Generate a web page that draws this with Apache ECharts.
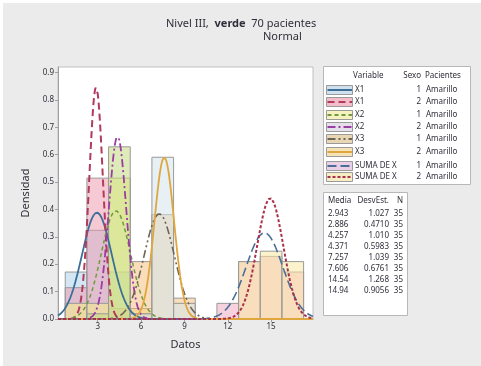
<!DOCTYPE html>
<html><head><meta charset="utf-8">
<script src="https://cdn.jsdelivr.net/npm/echarts@6/dist/echarts.min.js"></script>
<style>html,body{margin:0;padding:0;background:#ebebeb;} #c{width:481px;height:366px;}</style>
</head><body><div id="c"></div>
<script>
// ---- data ----
const variables = ['X1','X1','X2','X2','X3','X3','SUMA DE X','SUMA DE X'];
const sexo = ['1','2','1','2','1','2','1','2'];
const pacientes = ['Amarillo','Amarillo','Amarillo','Amarillo','Amarillo','Amarillo','Amarillo','Amarillo'];
const media = [2.943, 2.886, 4.257, 4.371, 7.257, 7.606, 14.54, 14.94];
const mediaLabels = ['2.943','2.886','4.257','4.371','7.257','7.606','14.54','14.94'];
const desvEst = [1.027, 0.4710, 1.010, 0.5983, 1.039, 0.6761, 1.268, 0.9056];
const desvLabels = ['1.027','0.4710','1.010','0.5983','1.039','0.6761','1.268','0.9056'];
const nObs = [35, 35, 35, 35, 35, 35, 35, 35];
const binCenters = [1.5, 3, 4.5, 6, 7.5, 9, 10.5, 12, 13.5, 15, 16.5];
const binWidth = 1.5;
const countsX1s1   = [9, 17, 9, 0, 0, 0, 0, 0, 0, 0, 0];
const countsX1s2   = [6, 27, 2, 0, 0, 0, 0, 0, 0, 0, 0];
const countsX2s1   = [3, 3, 27, 2, 0, 0, 0, 0, 0, 0, 0];
const countsX2s2   = [0, 1, 33, 1, 0, 0, 0, 0, 0, 0, 0];
const countsX3s1   = [0, 0, 0, 11, 20, 4, 0, 0, 0, 0, 0];
const countsX3s2   = [0, 0, 0, 1, 31, 3, 0, 0, 0, 0, 0];
const countsSUMAs1 = [0, 0, 0, 0, 0, 0, 0, 3, 11, 12, 9];
const countsSUMAs2 = [0, 0, 0, 0, 0, 0, 0, 0, 11, 13, 11];
const xTicks = [3, 6, 9, 12, 15];
const yTicks = [0.0, 0.1, 0.2, 0.3, 0.4, 0.5, 0.6, 0.7, 0.8, 0.9];

// ---- styles ----
const counts = [countsX1s1, countsX1s2, countsX2s1, countsX2s2, countsX3s1, countsX3s2, countsSUMAs1, countsSUMAs2];
const fills = ['rgba(165,205,232,0.5)','rgba(238,150,172,0.5)','rgba(245,238,140,0.55)','rgba(195,218,125,0.55)',
               'rgba(245,188,118,0.5)','rgba(210,228,236,0.55)','rgba(240,165,190,0.5)','rgba(250,232,160,0.55)'];
const swatchFills = ['#cfe0ee','#f2bcc8','#f6f2c0','#e4e0ea','#e9d6b4','#f7e3b8','#ebcfe6','#f6edc4'];
const lineColors = ['#3c6e98','#b23a5c','#6f9a3e','#9a3ca4','#6e6456','#e0a63e','#4a6f96','#a8304a'];
const lineWidths = [1.8, 2, 1.5, 1.8, 1.6, 1.8, 1.6, 2];
const lineDash = ['solid', [7,4], [4,3], [8,3,2,3], [8,3,2,3,2,3], 'solid', [9,4], [3,2]];

const xMin = 0.25, xMax = 17.9;
const font = '"Noto Sans", "Liberation Sans", sans-serif';
const txt = '#2f2f3a';

function normalCurve(mu, sd) {
  const pts = [];
  for (let i = 0; ; i++) {
    const x = xMin + i * 0.05;
    if (x > xMax + 1e-9) break;
    const z = (x - mu) / sd;
    pts.push([x, Math.exp(-0.5 * z * z) / (sd * Math.sqrt(2 * Math.PI))]);
  }
  return pts;
}

const series = [];
counts.forEach((cArr, g) => {
  const data = [];
  cArr.forEach((c, i) => {
    if (c > 0) data.push([binCenters[i] - binWidth / 2, binCenters[i] + binWidth / 2, c / (nObs[g] * binWidth)]);
  });
  series.push({
    type: 'custom', z: 2, silent: true, clip: true,
    encode: { x: [0, 1], y: 2 },
    data: data,
    renderItem: function (params, api) {
      const p0 = api.coord([api.value(0), api.value(2)]);
      const p1 = api.coord([api.value(1), 0]);
      return { type: 'rect',
        shape: { x: p0[0], y: p0[1], width: p1[0] - p0[0], height: p1[1] - p0[1] },
        style: { fill: fills[g], stroke: '#999999', lineWidth: 1 } };
    }
  });
});
media.forEach((mu, g) => {
  series.push({
    type: 'line', z: 5, silent: true, showSymbol: false, symbol: 'none', smooth: false, clip: true,
    data: normalCurve(mu, desvEst[g]),
    lineStyle: { color: lineColors[g], width: lineWidths[g], type: lineDash[g] }
  });
});

// ---- legend + stats graphics ----
const graphics = [];
const legRowY = [90, 102, 115, 127, 139, 152, 166, 177];
graphics.push({ type: 'rect', shape: { x: 323.5, y: 66.5, width: 147, height: 118 },
  style: { fill: '#ffffff', stroke: '#b8b8b8', lineWidth: 1 } });
function T(text, x, y, align, extra) {
  return Object.assign({ type: 'text', style: { text: text, x: x, y: y, align: align || 'left', verticalAlign: 'middle',
    fill: txt, font: '8px ' + font } }, extra || {});
}
graphics.push(T('Variable', 353, 76));
graphics.push(T('Sexo', 421, 76, 'right'));
graphics.push(T('Pacientes', 425, 76));
legRowY.forEach((y, g) => {
  graphics.push({ type: 'rect', shape: { x: 326.5, y: y - 4.5, width: 26, height: 9 },
    style: { fill: swatchFills[g], stroke: '#9a9a9a', lineWidth: 1 } });
  graphics.push({ type: 'line', shape: { x1: 327.5, y1: y, x2: 352, y2: y },
    style: { stroke: lineColors[g], lineWidth: 2, lineDash: lineDash[g] === 'solid' ? null : lineDash[g] } });
  graphics.push(T(variables[g], 355, y));
  graphics.push(T(sexo[g], 421, y, 'right'));
  graphics.push(T(pacientes[g], 426, y));
});
graphics.push({ type: 'rect', shape: { x: 323.5, y: 192.5, width: 84, height: 123 },
  style: { fill: '#ffffff', stroke: '#b8b8b8', lineWidth: 1 } });
graphics.push(T('Media', 328, 201));
graphics.push(T('DesvEst.', 389, 201, 'right'));
graphics.push(T('N', 403, 201, 'right'));
mediaLabels.forEach((m, g) => {
  const y = 214 + g * 11;
  graphics.push(T(m, 328, y));
  graphics.push(T(desvLabels[g], 389, y, 'right'));
  graphics.push(T(String(nObs[g]), 403, y, 'right'));
});
// thin white frame like the reference
graphics.push({ type: 'rect', shape: { x: 0, y: 0, width: 481, height: 3 }, style: { fill: '#ffffff' }, silent: true });
graphics.push({ type: 'rect', shape: { x: 0, y: 0, width: 3, height: 366 }, style: { fill: '#ffffff' }, silent: true });

const chart = echarts.init(document.getElementById('c'), null, { renderer: 'canvas' });
chart.setOption({
  animation: false,
  backgroundColor: '#ebebeb',
  title: [
    { text: 'Nivel III,  {b|verde}  70 pacientes', left: 161, top: 13,
      textStyle: { fontSize: 11, fontWeight: 'normal', color: txt, fontFamily: font,
        rich: { b: { fontSize: 11, fontWeight: 'bold', color: txt, fontFamily: font } } } },
    { text: 'Normal', left: 258, top: 26,
      textStyle: { fontSize: 11, fontWeight: 'normal', color: txt, fontFamily: font } }
  ],
  grid: { left: 58, right: 168, top: 67, bottom: 47, show: true, backgroundColor: '#ffffff',
    borderColor: '#c0c0c0', borderWidth: 1 },
  xAxis: {
    type: 'value', min: xMin, max: xMax,
    name: 'Datos', nameLocation: 'middle', nameGap: 20,
    nameTextStyle: { fontSize: 11, color: txt, fontFamily: font },
    axisLine: { show: true, lineStyle: { color: '#a0a0a0' } },
    axisTick: { show: true, length: 3, lineStyle: { color: '#a0a0a0' }, customValues: xTicks },
    axisLabel: { fontSize: 8, color: txt, fontFamily: font, margin: 4, customValues: xTicks },
    splitLine: { show: false }
  },
  yAxis: {
    type: 'value', min: 0, max: 0.92,
    name: 'Densidad', nameLocation: 'middle', nameGap: 25,
    nameTextStyle: { fontSize: 11, color: txt, fontFamily: font },
    axisLine: { show: true, lineStyle: { color: '#a0a0a0' } },
    axisTick: { show: true, length: 3, lineStyle: { color: '#a0a0a0' }, customValues: yTicks },
    axisLabel: { fontSize: 8, color: txt, fontFamily: font, margin: 4, customValues: yTicks,
      formatter: v => Number(v).toFixed(1) },
    splitLine: { show: false }
  },
  graphic: graphics,
  series: series
});
</script></body></html>
